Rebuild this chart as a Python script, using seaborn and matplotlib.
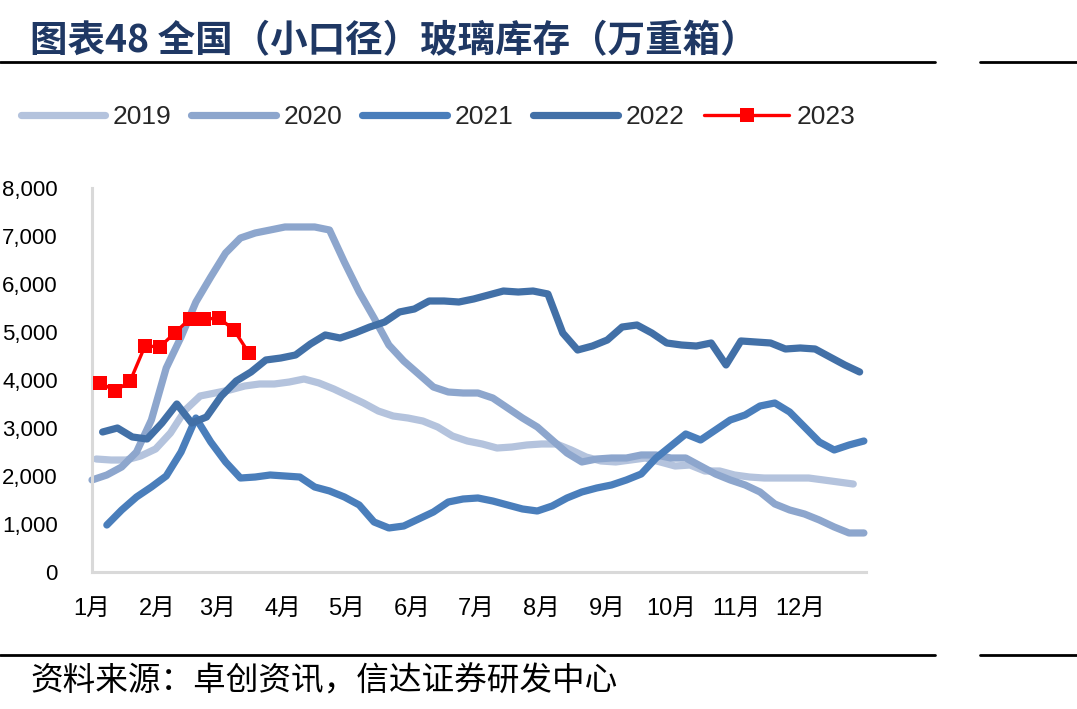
import matplotlib
matplotlib.use('Agg')
import matplotlib.pyplot as plt
from matplotlib.lines import Line2D
import seaborn as sns
import pandas as pd

# ---------------- data ----------------
MONTH_LABELS = ['1月', '2月', '3月', '4月', '5月', '6月', '7月', '8月', '9月', '10月', '11月', '12月', '']
MONTH_START_DAYS = [0, 31, 59, 90, 120, 151, 181, 212, 243, 273, 304, 334, 365]
Y_TICKS = [0, 1000, 2000, 3000, 4000, 5000, 6000, 7000, 8000]

YEARS = ['2019', '2020', '2021', '2022', '2023']
FIRST_DAY = [2, 0, 7, 5, 4]          # day-of-year of first weekly observation
WEEK_STEP = 7

V2019 = [2354, 2333, 2333, 2417, 2563, 2896, 3375, 3667, 3729, 3792, 3875, 3917, 3917,
         3958, 4021, 3938, 3813, 3667, 3521, 3354, 3250, 3208, 3146, 3021, 2833, 2729,
         2667, 2583, 2604, 2646, 2667, 2667, 2542, 2396, 2313, 2292, 2333, 2375, 2292,
         2208, 2229, 2104, 2104, 2021, 1979, 1958, 1958, 1958, 1958, 1917, 1875, 1833]
V2020 = [1917, 2021, 2188, 2500, 3167, 4250, 4896, 5625, 6146, 6646, 6958, 7063, 7125,
         7188, 7188, 7188, 7125, 6458, 5833, 5292, 4729, 4396, 4125, 3854, 3750, 3729,
         3729, 3625, 3417, 3208, 3021, 2750, 2479, 2292, 2354, 2375, 2375, 2438, 2438,
         2375, 2375, 2208, 2042, 1917, 1813, 1667, 1417, 1292, 1208, 1083, 938, 813, 813]
V2021 = [979, 1292, 1563, 1771, 2000, 2500, 3208, 2708, 2292, 1958, 1979, 2021, 2000,
         1979, 1771, 1688, 1563, 1396, 1042, 917, 958, 1104, 1250, 1458, 1521, 1542,
         1479, 1396, 1313, 1271, 1375, 1542, 1667, 1750, 1813, 1917, 2042, 2375, 2625,
         2875, 2750, 2958, 3167, 3271, 3458, 3521, 3333, 3021, 2708, 2542, 2646, 2729]
V2022 = [2917, 3000, 2813, 2771, 3104, 3500, 3104, 3229, 3667, 3979, 4167, 4417, 4458,
         4521, 4750, 4938, 4875, 4979, 5104, 5208, 5417, 5479, 5646, 5646, 5625, 5688,
         5771, 5854, 5833, 5854, 5792, 4979, 4625, 4708, 4833, 5104, 5146, 4979, 4771,
         4729, 4708, 4771, 4313, 4813, 4792, 4771, 4646, 4667, 4646, 4479, 4313, 4167]
V2023 = [3940, 3770, 3980, 4710, 4690, 4980, 5270, 5270, 5290, 5040, 4560]

SERIES = [V2019, V2020, V2021, V2022, V2023]
COLORS = ['#B4C3DD', '#8DA6CD', '#4A7EBB', '#4270A7', '#FF0000']

rows = []
for year, first, vals in zip(YEARS, FIRST_DAY, SERIES):
    for i, v in enumerate(vals):
        rows.append({'year': year, 'day': first + WEEK_STEP * i, 'value': v})
df = pd.DataFrame(rows)

# ---------------- figure ----------------
sns.set_theme(style='white')
plt.rcParams['font.family'] = ['Liberation Sans', 'Noto Sans CJK SC', 'DejaVu Sans']

W, H = 1077, 709
fig = plt.figure(figsize=(W / 100, H / 100), dpi=100)
ax = fig.add_axes([92 / W, 1 - 572 / H, (866 - 92) / W, (572 - 188) / H])

for year, color in zip(YEARS, COLORS):
    sub = df[df['year'] == year]
    if year == '2023':
        sns.lineplot(data=sub, x='day', y='value', ax=ax, color=color, lw=2.4,
                     marker='s', markersize=9.5, markeredgewidth=0, label=year,
                     estimator=None, sort=False, clip_on=False, zorder=5)
    else:
        sns.lineplot(data=sub, x='day', y='value', ax=ax, color=color, lw=5.2,
                     solid_capstyle='round', solid_joinstyle='round', label=year,
                     estimator=None, sort=False, clip_on=False)

ax.set_xlim(0, 365)
ax.set_ylim(0, 8000)
ax.set_xticks(MONTH_START_DAYS)
ax.set_xticklabels(MONTH_LABELS, fontsize=17)
ax.set_yticks(Y_TICKS)
ax.set_yticklabels([f'{v:,}' for v in Y_TICKS], fontsize=16)
ax.set_xlabel('')
ax.set_ylabel('')

for s in ['top', 'right']:
    ax.spines[s].set_visible(False)
for s in ['left', 'bottom']:
    ax.spines[s].set_color('#D9D9D9')
    ax.spines[s].set_linewidth(2.2)

ax.tick_params(axis='both', which='both', direction='out', color='#D9D9D9',
               width=2, labelcolor='black')
ax.tick_params(axis='y', length=6.5, pad=18)
ax.tick_params(axis='x', length=6, pad=13)
ax.grid(False)

handles, labels = ax.get_legend_handles_labels()
ax.get_legend().remove()
fig.legend(handles, labels, loc='center', bbox_to_anchor=(438 / W, 1 - 117 / H),
           ncol=5, frameon=False, fontsize=19, handlelength=3.2,
           handletextpad=0.3, columnspacing=0.75)

# title / source / rules
fig.text(30 / W, 1 - 41 / H, '图表48 全国（小口径）玻璃库存（万重箱）', fontsize=27,
         fontweight='bold', color='#1F3864', va='center', ha='left',
         family=['Noto Sans CJK SC', 'DejaVu Sans'])
fig.text(30 / W, 1 - 681 / H, '资料来源：卓创资讯，信达证券研发中心', fontsize=23.5,
         color='black', va='center', ha='left', family=['Noto Sans CJK SC', 'DejaVu Sans'])

for yy in (62, 655):
    fig.add_artist(Line2D([0, 935 / W], [1 - yy / H] * 2, color='black', lw=2,
                          transform=fig.transFigure))
    fig.add_artist(Line2D([980 / W, 1], [1 - yy / H] * 2, color='black', lw=2,
                          transform=fig.transFigure))

fig.savefig('out.png', dpi=100)
